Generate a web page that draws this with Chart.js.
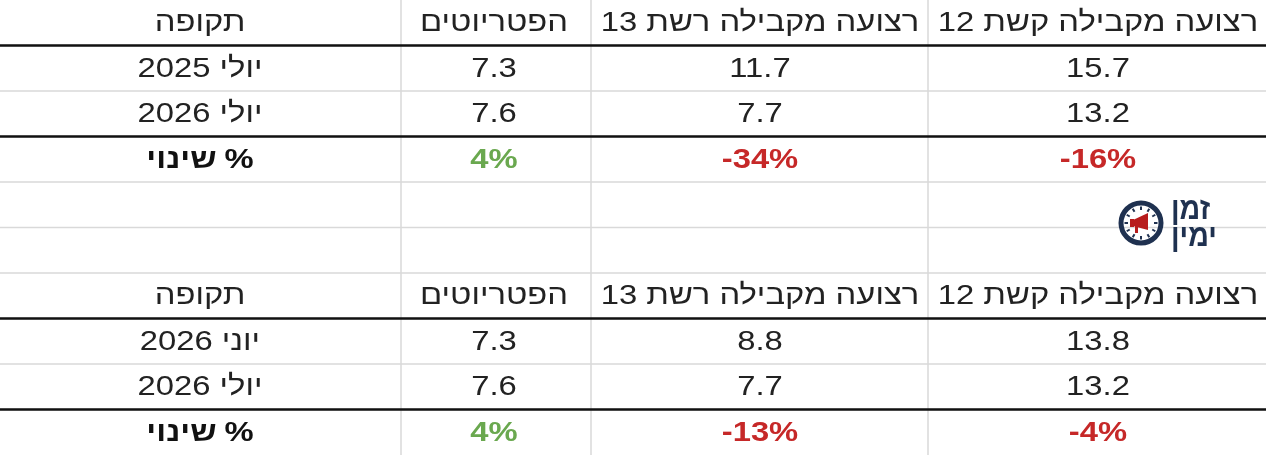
<!DOCTYPE html>
<html><head><meta charset="utf-8">
<script src="https://cdn.jsdelivr.net/npm/chart.js@4"></script>
<style>html,body{margin:0;padding:0;background:#fff}#w{width:1266px;height:455px}</style>
</head><body><div id="w"><canvas id="c" dir="ltr"></canvas></div>
<script>
const headers = ["תקופה","הפטריוטים","רצועה מקבילה רשת 13","רצועה מקבילה קשת 12"];
const periodsA = ["יולי 2025","יולי 2026","% שינוי"];
const patriotsA = ["7.3","7.6","4%"];
const reshet13A = ["11.7","7.7","-34%"];
const keshet12A = ["15.7","13.2","-16%"];
const periodsB = ["יוני 2026","יולי 2026","% שינוי"];
const patriotsB = ["7.3","7.6","4%"];
const reshet13B = ["8.8","7.7","-13%"];
const keshet12B = ["13.8","13.2","-4%"];
const logoText = ["זמן","ימין"];

const colEdges=[0,401,591,928,1266];
const colCenters=[200,494,760,1098];
const rowH=45.5;
const FONT='"Liberation Sans", Arial, sans-serif';
const GREEN='#6aa84f', RED='#c62828';
const SX=1.17;

const tablePlugin={id:'table',afterDraw(chart){
 const ctx=chart.ctx; ctx.save();
 ctx.fillStyle='#fff';ctx.fillRect(0,0,1266,455);
 ctx.strokeStyle='#d9d9d9';ctx.lineWidth=1.5;
 for(let r=1;r<10;r++){ctx.beginPath();ctx.moveTo(0,r*rowH);ctx.lineTo(1266,r*rowH);ctx.stroke();}
 for(let c=1;c<4;c++){ctx.beginPath();ctx.moveTo(colEdges[c],0);ctx.lineTo(colEdges[c],455);ctx.stroke();}
 ctx.strokeStyle='#111';ctx.lineWidth=2.5;
 [rowH,3*rowH,7*rowH,9*rowH].forEach(y=>{ctx.beginPath();ctx.moveTo(0,y);ctx.lineTo(1266,y);ctx.stroke();});
 ctx.textBaseline='middle';ctx.textAlign='center';
 function txt(t,x,y,font,color,dir){
  ctx.save();ctx.direction=dir;ctx.textAlign='center';ctx.translate(x,y);ctx.scale(SX,1);ctx.font=font;ctx.fillStyle=color;ctx.fillText(t,0,0);ctx.restore();
 }
 function block(top,per,pat,r13,k12){
  const rows=[headers,[per[0],pat[0],r13[0],k12[0]],[per[1],pat[1],r13[1],k12[1]],[per[2],pat[2],r13[2],k12[2]]];
  rows.forEach((row,ri)=>{
   const y=top+ri*rowH+rowH/2+1;
   row.forEach((t,ci)=>{
    const x=colCenters[ci];
    const font=(ri===3?'bold ':'')+'28px '+FONT;
    let color='#222';
    if(ri===3&&ci>0) color=t.startsWith('-')?RED:GREEN;
    if(ci===0&&ri===3){
     ctx.save();ctx.font=font;
     const parts=t.split(' ');
     const wP=ctx.measureText(parts[0]).width*SX, wW=ctx.measureText(parts[1]).width*SX, sp=8;
     const total=wP+wW+sp, left=x-total/2;
     ctx.restore();
     txt(parts[1],left+wW/2,y,font,'#111','rtl');
     txt(parts[0],left+wW+sp+wP/2,y,font,'#111','ltr');
    } else {
     txt(t,x,y,font,color,(ci===0||ri===0)?'rtl':'ltr');
    }
   });
  });
 }
 block(0,periodsA,patriotsA,reshet13A,keshet12A);
 block(6*rowH,periodsB,patriotsB,reshet13B,keshet12B);
 // logo
 const cx=1141,cy=223,navy='#1f3150';
 ctx.direction='ltr';
 ctx.strokeStyle=navy;ctx.lineWidth=5;ctx.beginPath();ctx.arc(cx,cy,20,0,Math.PI*2);ctx.stroke();
 ctx.lineWidth=2;
 for(let i=0;i<12;i++){const a=i*Math.PI/6;ctx.beginPath();ctx.moveTo(cx+Math.cos(a)*13,cy+Math.sin(a)*13);ctx.lineTo(cx+Math.cos(a)*16.5,cy+Math.sin(a)*16.5);ctx.stroke();}
 ctx.fillStyle='#b71c1c';ctx.beginPath();ctx.moveTo(cx-8,cy-3);ctx.lineTo(cx+7,cy-10);ctx.lineTo(cx+7,cy+7);ctx.lineTo(cx-8,cy+3);ctx.closePath();ctx.fill();
 ctx.fillRect(cx-11,cy-4,4,8);ctx.fillRect(cx-6,cy+3,3,7);
 ctx.fillStyle=navy;ctx.font='900 30px '+FONT;ctx.textAlign='left';ctx.textBaseline='middle';
 ctx.save();ctx.translate(1171,210);ctx.scale(0.95,1.05);ctx.fillText(logoText[0],0,0);ctx.restore();
 ctx.save();ctx.translate(1171,237);ctx.scale(0.95,1.05);ctx.fillText(logoText[1],0,0);ctx.restore();
 ctx.restore();
}};
new Chart(document.getElementById('c'),{type:'bar',
 data:{labels:headers,datasets:[{data:[0,0,0,0]}]},
 options:{responsive:true,maintainAspectRatio:false,animation:false,
  plugins:{legend:{display:false},tooltip:{enabled:false}},
  scales:{x:{display:false},y:{display:false}}},
 plugins:[tablePlugin]});
</script></body></html>
